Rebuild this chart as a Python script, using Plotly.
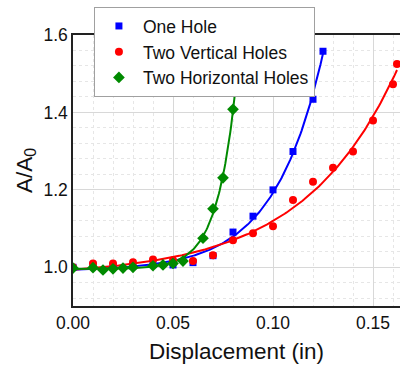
import numpy as np
import plotly.graph_objects as go

# Data
one_x = [0.0, 0.01, 0.02, 0.03, 0.04, 0.05, 0.06, 0.07, 0.08, 0.09, 0.10, 0.11, 0.12, 0.125]
one_y = [1.000, 1.006, 1.003, 1.004, 1.007, 1.006, 1.012, 1.030, 1.091, 1.132, 1.200, 1.299, 1.434, 1.558]

vert_x = [0.0, 0.01, 0.02, 0.03, 0.04, 0.05, 0.06, 0.07, 0.08, 0.09, 0.10, 0.11, 0.12, 0.13, 0.14, 0.15, 0.16, 0.162]
vert_y = [1.000, 1.010, 1.010, 1.013, 1.020, 1.018, 1.016, 1.031, 1.070, 1.088, 1.106, 1.174, 1.221, 1.257, 1.299, 1.379, 1.473, 1.525]

horiz_x = [0.0, 0.01, 0.015, 0.02, 0.025, 0.03, 0.04, 0.045, 0.05, 0.055, 0.065, 0.07, 0.075, 0.08, 0.0815]
horiz_y = [0.998, 0.999, 0.993, 0.996, 0.998, 1.000, 1.004, 1.006, 1.010, 1.016, 1.075, 1.151, 1.231, 1.408, 1.468]

names = ["One Hole", "Two Vertical Holes", "Two Horizontal Holes"]
colors = ["#0000ff", "#ff0000", "#008a00"]
symbols = ["square", "circle", "diamond"]
sizes = [7, 8, 9]


def fit_exp(x, y):
    """Least-squares fit of y = a + b*exp(c*x)."""
    x = np.asarray(x); y = np.asarray(y)
    best = None
    for c in np.linspace(1, 150, 3000):
        A = np.column_stack([np.ones_like(x), np.exp(c * x)])
        coef, *_ = np.linalg.lstsq(A, y, rcond=None)
        err = np.sum((A @ coef - y) ** 2)
        if best is None or err < best[0]:
            best = (err, coef[0], coef[1], c)
    _, a, b, c = best
    xs = np.linspace(x.min(), x.max(), 200)
    return xs, a + b * np.exp(c * xs)


fig = go.Figure()
series = [(one_x, one_y), (vert_x, vert_y), (horiz_x, horiz_y)]
for (x, y), n, col in zip(series, names, colors):
    xs, ys = fit_exp(x, y)
    fig.add_trace(go.Scatter(x=xs, y=ys, mode="lines", line=dict(color=col, width=2),
                             showlegend=False, hoverinfo="skip", cliponaxis=False))
for (x, y), n, col, sym, sz in zip(series, names, colors, symbols, sizes):
    fig.add_trace(go.Scatter(x=x, y=y, mode="markers", name=n,
                             marker=dict(color=col, symbol=sym, size=sz)))

fig.update_layout(
    width=400, height=366,
    margin=dict(l=73, r=0, t=35, b=60, autoexpand=False),
    paper_bgcolor="white", plot_bgcolor="white",
    font=dict(family="Liberation Sans, Arial, sans-serif", color="#222222", size=17.5),
    legend=dict(x=0.064, y=1.103, xanchor="left", yanchor="top",
                bgcolor="white", bordercolor="#a0a0a0", borderwidth=1,
                font=dict(size=17.5, color="#111111"), tracegroupgap=0, itemwidth=38),
    showlegend=True,
)
fig.update_xaxes(
    range=[0, 0.1635], tickvals=[0, 0.05, 0.10, 0.15], ticktext=["0.00", "0.05", "0.10", "0.15"],
    showline=True, linecolor="#222222", linewidth=1.5, mirror=True,
    showgrid=True, gridcolor="#d8d8d8", gridwidth=1, zeroline=False, ticks="",
    tickfont=dict(size=17.5, color="#111111"),
    minor=dict(dtick=0.01, tick0=0, showgrid=True, gridcolor="#e6e6e6", griddash="dot", gridwidth=1),
    title=dict(text="Displacement (in)", font=dict(size=22.5, color="#111111"), standoff=11),
)
fig.update_yaxes(
    range=[0.9, 1.6], tickvals=[1.0, 1.2, 1.4, 1.6], ticktext=["1.0", "1.2", "1.4", "1.6"],
    showline=True, linecolor="#222222", linewidth=1.5, mirror=False,
    showgrid=True, gridcolor="#d8d8d8", gridwidth=1, zeroline=False, ticks="",
    tickfont=dict(size=17.5, color="#111111"),
    minor=dict(dtick=0.04, tick0=1.0, showgrid=True, gridcolor="#e6e6e6", griddash="dot", gridwidth=1),
    title=dict(text="A/A<sub>0</sub>", font=dict(size=22.5, color="#111111"), standoff=5),
)

fig.write_html(
    "out.html",
    config={"displayModeBar": False},
    post_script=(
        "document.body.style.margin='0';"
        "document.body.style.overflow='hidden';"
        "document.documentElement.style.overflow='hidden';"
    ),
)
